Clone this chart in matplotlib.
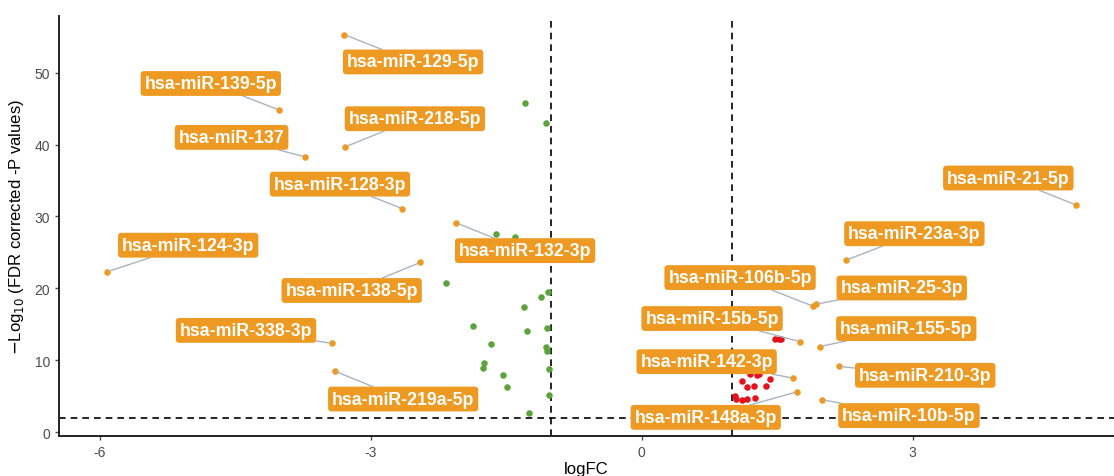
import matplotlib
matplotlib.use("Agg")
import matplotlib.pyplot as plt

plt.rcParams['font.family'] = ['Liberation Sans', 'DejaVu Sans']

# Labeled (orange) points
lab_names = ["hsa-miR-129-5p", "hsa-miR-139-5p", "hsa-miR-137", "hsa-miR-218-5p",
             "hsa-miR-128-3p", "hsa-miR-132-3p", "hsa-miR-124-3p", "hsa-miR-138-5p",
             "hsa-miR-338-3p", "hsa-miR-219a-5p", "hsa-miR-21-5p", "hsa-miR-23a-3p",
             "hsa-miR-106b-5p", "hsa-miR-25-3p", "hsa-miR-15b-5p", "hsa-miR-155-5p",
             "hsa-miR-142-3p", "hsa-miR-210-3p", "hsa-miR-148a-3p", "hsa-miR-10b-5p"]
lab_fc = [-3.29, -4.01, -3.73, -3.28, -2.65, -2.05, -5.92, -2.45, -3.43, -3.40,
          4.81, 2.26, 1.90, 1.93, 1.75, 1.97, 1.68, 2.18, 1.72, 2.00]
lab_p = [55.3, 44.8, 38.3, 39.7, 31.1, 29.1, 22.3, 23.6, 12.35, 8.5,
         31.6, 23.9, 17.5, 17.8, 12.6, 11.9, 7.5, 9.15, 5.6, 4.5]
# label box centres (data coords)
lab_tx = [-2.53, -4.77, -4.54, -2.51, -3.34, -1.29, -5.02, -3.21, -4.38, -2.64,
          4.06, 3.02, 1.09, 2.88, 0.78, 2.93, 0.72, 3.14, 0.71, 2.96]
lab_ty = [51.5, 48.5, 41.0, 43.6, 34.5, 25.25, 26.0, 19.7, 14.15, 4.6,
          35.35, 27.6, 21.5, 20.05, 15.8, 14.4, 9.8, 7.9, 2.05, 2.3]

# Down-regulated (green)
down_fc = [-1.29, -1.06, -1.61, -1.40, -2.17, -1.04, -1.11, -1.30, -1.87, -1.27,
           -1.05, -1.67, -1.06, -1.05, -1.74, -1.76, -1.54, -1.02, -1.49, -1.03, -1.25]
down_p = [45.8, 43.0, 27.6, 27.2, 20.75, 19.5, 18.85, 17.4, 14.75, 14.1,
          14.5, 12.3, 11.9, 11.3, 9.55, 8.85, 7.95, 8.8, 6.25, 5.15, 2.7]

# Up-regulated (red)
up_fc = [1.48, 1.52, 1.54, 1.28, 1.42, 1.11, 1.24, 1.17, 1.38, 1.03, 1.05, 1.11,
         1.17, 1.26, 1.20, 1.30]
up_p = [12.9, 13.0, 12.95, 8.0, 7.45, 7.05, 6.45, 6.3, 6.35, 5.05, 4.6, 4.45,
        4.6, 4.7, 8.15, 8.1]

fc_cut = [-1.0, 1.0]
p_cut = 2.0

ORANGE = "#EE9A22"
GREEN = "#5BA33B"
RED = "#E3121C"

fig = plt.figure(figsize=(11.14, 4.77), dpi=100)
ax = fig.add_axes([0.053, 0.0845, 0.947, 0.880])

ax.scatter(down_fc, down_p, s=22, color=GREEN, zorder=3, linewidths=0)
ax.scatter(up_fc, up_p, s=22, color=RED, zorder=3, linewidths=0)
ax.scatter(lab_fc, lab_p, s=22, color=ORANGE, zorder=3, linewidths=0)

for v in fc_cut:
    ax.axvline(v, color="black", linestyle=(0, (4, 3)), linewidth=1.2, zorder=2)
ax.axhline(p_cut, color="black", linestyle=(0, (4, 3)), linewidth=1.2, zorder=2)

for n, x, y, tx, ty in zip(lab_names, lab_fc, lab_p, lab_tx, lab_ty):
    ax.annotate(n, xy=(x, y), xytext=(tx, ty), ha="center", va="center",
                fontsize=12.8, fontweight="bold", color="white", zorder=5,
                bbox=dict(boxstyle="round,pad=0.22,rounding_size=0.2",
                          fc=ORANGE, ec="none"),
                arrowprops=dict(arrowstyle="-", color="#A9B4C2", lw=1.0,
                                shrinkA=0, shrinkB=2))

ax.set_xlim(-6.45, 5.23)
ax.set_ylim(-0.5, 57.9)
ax.set_xticks([-6, -3, 0, 3])
ax.set_xticklabels(["-6", "-3", "0", "3"])
ax.set_yticks([0, 10, 20, 30, 40, 50])
ax.tick_params(colors="#4D4D4D", labelsize=10, length=3, width=1)
for s in ["top", "right"]:
    ax.spines[s].set_visible(False)
for s in ["left", "bottom"]:
    ax.spines[s].set_linewidth(1.4)
    ax.spines[s].set_color("#222222")
ax.set_xlabel("logFC", fontsize=12, labelpad=2)
ax.set_ylabel(r"$-$Log$_{10}$ (FDR corrected -P values)", fontsize=12, labelpad=6)

fig.savefig("out.png", dpi=100)
